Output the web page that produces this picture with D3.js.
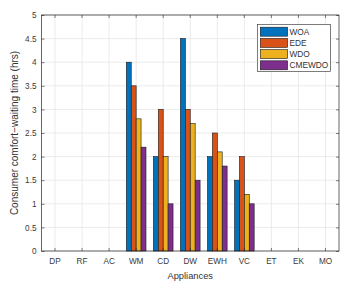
<!DOCTYPE html>
<html><head><meta charset="utf-8">
<script src="https://cdn.jsdelivr.net/npm/d3@7"></script>
<style>body{margin:0;background:#fff}svg{display:block}text{font-family:"Liberation Sans",Arial,sans-serif}</style>
</head><body><svg id="c" width="357" height="289"></svg>
<script>
const categories = ["DP","RF","AC","WM","CD","DW","EWH","VC","ET","EK","MO"];
const seriesNames = ["WOA","EDE","WDO","CMEWDO"];
const WOA    = [0,0,0,4.0,2.0,4.5,2.0,1.5,0,0,0];
const EDE    = [0,0,0,3.5,3.0,3.0,2.5,2.0,0,0,0];
const WDO    = [0,0,0,2.8,2.0,2.7,2.1,1.2,0,0,0];
const CMEWDO = [0,0,0,2.2,1.0,1.5,1.8,1.0,0,0,0];
const yTicks = [0,0.5,1,1.5,2,2.5,3,3.5,4,4.5,5];
const colors = ["#0072BD","#D95319","#EDB120","#7E2F8E"];
const series = [WOA,EDE,WDO,CMEWDO];

const L=41.5,R=339,T=15,B=251;
const svg=d3.select("#c");
const x=d3.scaleBand().domain(categories).range([L,R]);
const y=d3.scaleLinear().domain([0,5]).range([B,T]);
const gw=x.bandwidth()*0.727, bw=gw/4;
const xs=d3.scaleBand().domain(seriesNames).range([0,gw]);

// grid
svg.append("g").selectAll("line").data(yTicks).join("line")
 .attr("x1",L).attr("x2",R).attr("y1",d=>y(d)).attr("y2",d=>y(d))
 .attr("stroke","#e6e6e6").attr("stroke-width",0.8);
svg.append("g").selectAll("line").data(categories).join("line")
 .attr("x1",d=>x(d)+x.bandwidth()/2).attr("x2",d=>x(d)+x.bandwidth()/2).attr("y1",T).attr("y2",B)
 .attr("stroke","#e6e6e6").attr("stroke-width",0.8);

// bars
series.forEach((s,i)=>{
  svg.append("g").selectAll("rect").data(categories.map((c,j)=>({c,v:s[j]})).filter(d=>d.v>0)).join("rect")
   .attr("x",d=>x(d.c)+x.bandwidth()/2-gw/2+xs(seriesNames[i]))
   .attr("width",bw).attr("y",d=>y(d.v)).attr("height",d=>B-y(d.v))
   .attr("fill",colors[i]).attr("stroke","#1a1a1a").attr("stroke-width",0.6);
});

// axes
const ax=d3.axisBottom(x).tickSize(-3).tickPadding(7);
const gx=svg.append("g").attr("transform",`translate(0,${B})`).call(ax);
const ay=d3.axisLeft(y).tickValues(yTicks).tickFormat(d3.format("")).tickSize(-3).tickPadding(5);
const gy=svg.append("g").attr("transform",`translate(${L},0)`).call(ay);
svg.append("g").attr("transform",`translate(0,${T})`).call(d3.axisTop(x).tickSize(-3).tickFormat(""));
svg.append("g").attr("transform",`translate(${R},0)`).call(d3.axisRight(y).tickValues(yTicks).tickSize(-3).tickFormat(""));
svg.selectAll(".domain").remove();
svg.selectAll(".tick line").attr("stroke","#262626").attr("stroke-width",0.6);
[gx,gy].forEach(g=>g.selectAll("text").attr("fill","#3a3a3a").attr("font-size","8.2px"));
svg.append("rect").attr("x",L).attr("y",T).attr("width",R-L).attr("height",B-T)
 .attr("fill","none").attr("stroke","#262626").attr("stroke-width",0.7);

// labels
svg.append("text").attr("x",(L+R)/2).attr("y",278.5).attr("text-anchor","middle")
 .attr("font-size","9.3px").attr("fill","#333").text("Appliances");
svg.append("text").attr("transform",`translate(18,${(T+B)/2}) rotate(-90)`).attr("text-anchor","middle")
 .attr("font-size","10px").attr("fill","#333").text("Consumer comfort−waiting time (hrs)");

// legend
const lg=svg.append("g");
lg.append("rect").attr("x",257.5).attr("y",24.5).attr("width",73).attr("height",47)
 .attr("fill","#fff").attr("stroke","#262626").attr("stroke-width",0.6);
seriesNames.forEach((n,i)=>{
  const cy=31.7+i*11.2;
  lg.append("rect").attr("x",260.3).attr("y",cy-4.5).attr("width",27.3).attr("height",9)
   .attr("fill",colors[i]).attr("stroke","#1a1a1a").attr("stroke-width",0.6);
  lg.append("text").attr("x",289.5).attr("y",cy+3).attr("font-size","8.3px").attr("fill","#333").text(n);
});
</script></body></html>
